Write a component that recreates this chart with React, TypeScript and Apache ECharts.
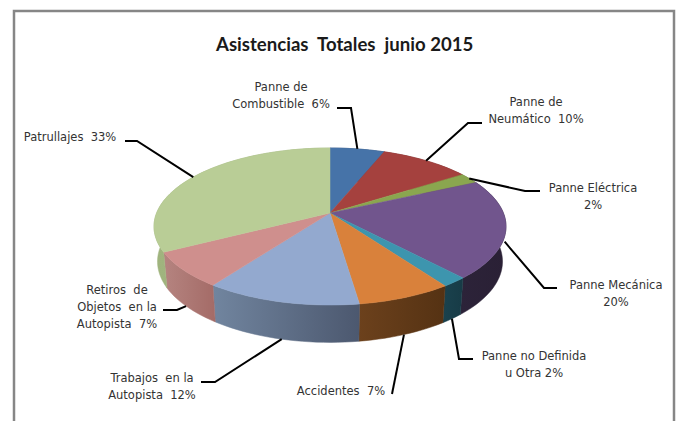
import React, { useEffect, useRef } from "react";
import * as echarts from "echarts";

const TITLE = "Asistencias  Totales  junio 2015";
const CATEGORIES = [
  "Panne de\nCombustible  6%",
  "Panne de\nNeumático  10%",
  "Panne Eléctrica\n2%",
  "Panne Mecánica\n20%",
  "Panne no Definida\nu Otra 2%",
  "Accidentes  7%",
  "Trabajos  en la\nAutopista  12%",
  "Retiros  de\nObjetos  en la\nAutopista  7%",
  "Patrullajes  33%",
];
const VALUES = [5.9, 9.8, 2.2, 20.4, 2.0, 7.4, 12.1, 7.3, 32.8];
const TOP_COLORS = ["#4673a8", "#a5413e", "#8aa64f", "#71558d", "#3d95ae", "#d9813b", "#93a9cf", "#cf8f8d", "#b9cd96"];
const WALL_LEFT = ["#2f4d72", "#6e2b29", "#5c6f34", "#2c2339", "#1a424e", "#6c411c", "#71859f", "#b58480", "#a0b47e"];
const WALL_RIGHT = ["#2f4d72", "#6e2b29", "#5c6f34", "#2a2035", "#173b46", "#553213", "#4c586f", "#a46b67", "#9aae78"];

// Label placement (centre of the text block, elbow and end of the leader line)
const LABEL_X = [281, 536, 593, 616, 534, 341, 152, 117, 70];
const LABEL_Y = [95, 110, 196, 293, 364, 391, 386, 307, 137];
const LEADER_BEND = [[351, 108], [468, 123], [525, 191], [544, 288], [459, 359], null, [215, 382], [177, 310], [137, 141]];
const LEADER_END = [[337, 108], [482, 123], [540, 191], [557, 288], [473, 359], [392, 394], [201, 382], [163, 310], [125, 141]];
const LEADER_RIM = [0, 0, 0, 0.38, 1, 1, 1, 1, 0];

const TOTAL = VALUES.reduce((a, b) => a + b, 0);
const cumulative = (i: number) => VALUES.slice(0, i).reduce((a, b) => a + b, 0) / TOTAL;

// Perspective projection of the pie's disc
const CX = 330, CY = 213, R = 173.4, S = 76.2, K = 0.172;
const MID_Y = 226.5, WALL_DY = 35, WALL_SX = 0.98, WALL_SY = 1.03;
const top = (t: number): number[] => {
  const u = Math.sin(t), v = Math.cos(t), d = 1 + K * v;
  return [CX + (R * u) / d, CY - (S * v) / d];
};
const bottom = (t: number): number[] => {
  const p = top(t);
  return [CX + (p[0] - CX) * WALL_SX, MID_Y + WALL_DY + (p[1] - MID_Y) * WALL_SY];
};
const arc = (a: number, b: number, f: (t: number) => number[]) => {
  const n = Math.max(2, Math.ceil(((b - a) / (Math.PI * 2)) * 180));
  const out: number[][] = [];
  for (let i = 0; i <= n; i++) out.push(f(a + ((b - a) * i) / n));
  return out;
};
const angles = (i: number) => [cumulative(i) * Math.PI * 2, cumulative(i + 1) * Math.PI * 2];

export default function App() {
  const ref = useRef<HTMLDivElement>(null);
  useEffect(() => {
    const chart = echarts.init(ref.current!, null, { renderer: "svg" });
    const seriesData = VALUES.map((v, i) => ({ name: CATEGORIES[i], value: v }));
    chart.setOption({
      animation: false,
      backgroundColor: "#ffffff",
      title: {
        text: TITLE,
        left: 216,
        top: 34,
        padding: 0,
        textStyle: { fontFamily: "Lato", fontWeight: "bold", fontSize: 18.6, color: "#1a1a1a" },
      },
      graphic: [
        {
          type: "rect",
          z: 0,
          shape: { x: 14, y: 11, width: 660, height: 430 },
          style: { fill: "#ffffff", stroke: "#868686", lineWidth: 2.5 },
        },
      ],
      series: [
        {
          type: "custom",
          coordinateSystem: "none",
          z: 2,
          data: seriesData,
          renderItem: (p: any) => {
            const i = p.dataIndex;
            const [a, b] = angles(i);
            const points = [...arc(a, b, top), ...arc(a, b, bottom).reverse()];
            const fill = new echarts.graphic.LinearGradient(0, 0, 1, 0, [
              { offset: 0, color: WALL_LEFT[i] },
              { offset: 1, color: WALL_RIGHT[i] },
            ]);
            return {
              type: "polygon",
              shape: { points },
              style: { fill, stroke: fill, lineWidth: 0.5 },
            };
          },
        },
        {
          type: "custom",
          coordinateSystem: "none",
          z: 3,
          data: seriesData,
          renderItem: (p: any) => {
            const i = p.dataIndex;
            const [a, b] = angles(i);
            return {
              type: "polygon",
              shape: { points: [[CX, CY], ...arc(a, b, top)] },
              style: { fill: TOP_COLORS[i], stroke: TOP_COLORS[i], lineWidth: 0.5 },
            };
          },
        },
        {
          type: "custom",
          coordinateSystem: "none",
          z: 4,
          data: seriesData,
          renderItem: (p: any) => {
            const i = p.dataIndex;
            const [a, b] = angles(i);
            const mid = (a + b) / 2;
            const t = top(mid), c = bottom(mid), f = LEADER_RIM[i];
            const rim = [t[0] + (c[0] - t[0]) * f, t[1] + (c[1] - t[1]) * f];
            const pts = [rim, ...(LEADER_BEND[i] ? [LEADER_BEND[i] as number[]] : []), LEADER_END[i]];
            return {
              type: "group",
              children: [
                {
                  type: "polyline",
                  shape: { points: pts },
                  style: { fill: "none", stroke: "#000000", lineWidth: 2 },
                },
                {
                  type: "text",
                  x: LABEL_X[i],
                  y: LABEL_Y[i],
                  style: {
                    text: CATEGORIES[i],
                    align: "center",
                    verticalAlign: "middle",
                    lineHeight: 17,
                    fontFamily: "DejaVu Sans",
                    fontSize: 11.5,
                    fill: "#333333",
                  },
                },
              ],
            };
          },
        },
      ],
    });
    return () => chart.dispose();
  }, []);
  return <div ref={ref} style={{ position: "fixed", left: 0, top: 0, width: 683, height: 421 }} />;
}
